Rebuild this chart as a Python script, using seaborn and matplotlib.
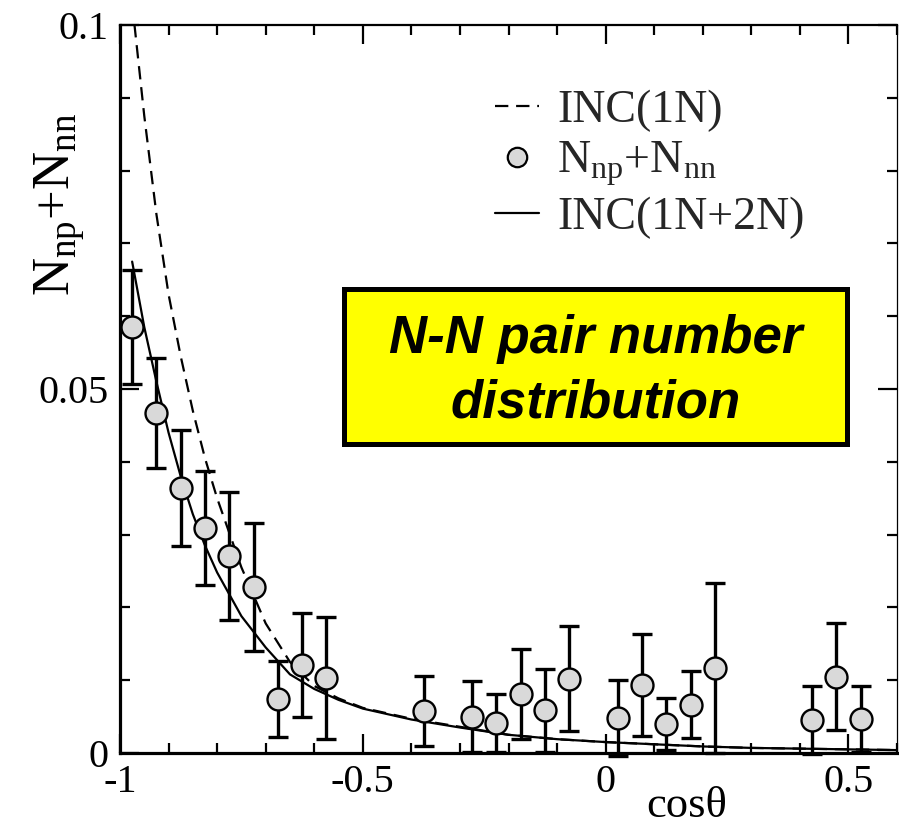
import numpy as np
import pandas as pd
import matplotlib
matplotlib.use("Agg")
import matplotlib.pyplot as plt
import seaborn as sns
from matplotlib.patches import Rectangle
from matplotlib.lines import Line2D
from matplotlib.ticker import MultipleLocator, FuncFormatter

# ---------------- data ----------------
cos_grid = [-0.975, -0.95, -0.925, -0.9, -0.875, -0.85, -0.825, -0.8, -0.75, -0.7, -0.65,
            -0.6, -0.55, -0.5, -0.4, -0.3, -0.2, -0.1, 0.0, 0.1, 0.2, 0.3, 0.4, 0.5, 0.6]
inc_1n = [0.103, 0.0875, 0.074, 0.063, 0.0545, 0.047, 0.0405, 0.035, 0.0255, 0.0178, 0.0125,
          0.0092, 0.0075, 0.0062, 0.0047, 0.0036, 0.0025, 0.0019, 0.0015, 0.0012, 0.0009,
          0.0007, 0.0006, 0.0005, 0.0004]
inc_1n2n = [0.0675, 0.0585, 0.051, 0.044, 0.038, 0.0328, 0.0285, 0.0248, 0.0188, 0.0145, 0.0108,
            0.0088, 0.0073, 0.0061, 0.0046, 0.0035, 0.0025, 0.0019, 0.0015, 0.0012, 0.0009,
            0.0007, 0.0006, 0.0005, 0.0004]

cos_pts = [-0.975, -0.925, -0.875, -0.825, -0.775, -0.725, -0.675, -0.625, -0.575,
           -0.375, -0.275, -0.225, -0.175, -0.125, -0.075, 0.025, 0.075, 0.125, 0.175,
           0.225, 0.425, 0.475, 0.525]
n_pairs = [0.0585, 0.0467, 0.0364, 0.0309, 0.0271, 0.0228, 0.0074, 0.0121, 0.0103,
           0.0058, 0.0050, 0.0041, 0.0081, 0.0059, 0.0102, 0.0048, 0.0093, 0.0040, 0.0066,
           0.0117, 0.0045, 0.0105, 0.0047]
n_err = [0.0078, 0.0076, 0.0079, 0.0078, 0.0088, 0.0088, 0.0052, 0.0071, 0.0084,
         0.0048, 0.0049, 0.0040, 0.0062, 0.0057, 0.0072, 0.0052, 0.0070, 0.0036, 0.0046,
         0.0117, 0.0047, 0.0074, 0.0045]

x_ticks = [-1, -0.5, 0, 0.5]
y_ticks = [0, 0.05, 0.1]
legend_labels = ["INC(1N)", r"N$_{\mathrm{np}}$+N$_{\mathrm{nn}}$", "INC(1N+2N)"]
box_lines = ["N-N pair number", "distribution"]

curves = pd.DataFrame({"cos": cos_grid, "inc1n": inc_1n, "inc1n2n": inc_1n2n})
points = pd.DataFrame({"cos": cos_pts, "n": n_pairs, "err": n_err})

# ---------------- style ----------------
sns.set_theme(style="ticks")
plt.rcParams['font.family'] = ['Liberation Serif', 'DejaVu Serif']
plt.rcParams['mathtext.fontset'] = 'custom'
plt.rcParams['mathtext.rm'] = 'Liberation Serif'
plt.rcParams['mathtext.it'] = 'Liberation Serif:italic'
plt.rcParams['axes.unicode_minus'] = False

W, H = 899, 826
fig = plt.figure(figsize=(W / 100, H / 100), dpi=100)
L, R, T, B = 120, 897, 25, 753
ax = fig.add_axes([L / W, 1 - B / H, (R - L) / W, (B - T) / H])

sns.lineplot(data=curves, x="cos", y="inc1n", ax=ax, color="black", lw=1.6,
             linestyle=(0, (6, 3.5)), zorder=2)
sns.lineplot(data=curves, x="cos", y="inc1n2n", ax=ax, color="black", lw=1.6, zorder=2)

eb = ax.errorbar(points["cos"], points["n"], yerr=points["err"], fmt="none",
                 ecolor="black", elinewidth=2.4, capsize=7.5, capthick=2.4, zorder=3)
for art in list(eb.lines[1]) + list(eb.lines[2]):
    art.set_clip_on(False)

sns.scatterplot(data=points, x="cos", y="n", ax=ax, s=250, color="#d9d9d9",
                edgecolor="black", linewidth=1.7, zorder=4, clip_on=False)

ax.set_xlim(-1, 0.6)
ax.set_ylim(0, 0.1)
ax.xaxis.set_major_locator(MultipleLocator(0.5))
ax.xaxis.set_minor_locator(MultipleLocator(0.1))
ax.yaxis.set_major_locator(MultipleLocator(0.05))
ax.yaxis.set_minor_locator(MultipleLocator(0.01))
fmt = FuncFormatter(lambda v, p: "%g" % round(v, 4))
ax.xaxis.set_major_formatter(fmt)
ax.yaxis.set_major_formatter(fmt)
ax.tick_params(which="both", direction="in", top=True, right=True, color="black")
ax.tick_params(which="major", length=14, width=1.6, labelsize=29, pad=8)
ax.tick_params(which="minor", length=7, width=1.6)
for lab in ax.get_xticklabels() + ax.get_yticklabels():
    lab.set_color("black")

for side in ["left", "bottom"]:
    ax.spines[side].set_linewidth(2.3)
ax.spines["top"].set_linewidth(1.6)
ax.spines["right"].set_linewidth(0.9)
for s in ax.spines.values():
    s.set_color("black")

ax.set_ylabel(legend_labels[1], fontsize=38, color="black")
ax.yaxis.set_label_coords(-0.043, 0.754)
ax.set_xlabel("cosθ", fontsize=32, color="black")
ax.xaxis.label.set_va("baseline")
ax.xaxis.set_label_coords((687 - L) / (R - L), (B - 817) / (B - T))

# legend
handles = [
    Line2D([], [], color="black", lw=1.6, linestyle=(0, (6, 3.5))),
    Line2D([], [], marker="o", ls="none", markersize=14, markerfacecolor="#d9d9d9",
           markeredgecolor="black", markeredgewidth=1.6),
    Line2D([], [], color="black", lw=1.6),
]
leg = ax.legend(handles, legend_labels, loc="upper left", bbox_to_anchor=(0.4826, 0.912),
                frameon=False, fontsize=33, handlelength=0.95, handletextpad=0.41,
                labelspacing=0.18, borderpad=0, borderaxespad=0)

# yellow annotation box
bx0, bx1 = (344 - L) / (R - L), (847 - L) / (R - L)
by0, by1 = (B - 444) / (B - T), (B - 289) / (B - T)
ax.add_patch(Rectangle((bx0, by0), bx1 - bx0, by1 - by0, transform=ax.transAxes,
                       facecolor="#ffff00", edgecolor="black", lw=3.6, zorder=5))
cx = (bx0 + bx1) / 2
ax.text(cx, (B - 353) / (B - T), box_lines[0], transform=ax.transAxes, ha="center",
        va="baseline", fontsize=38, fontweight="bold", fontstyle="italic",
        family=["Liberation Sans", "DejaVu Sans"], color="black", zorder=6)
ax.text(cx, (B - 417) / (B - T), box_lines[1], transform=ax.transAxes, ha="center",
        va="baseline", fontsize=38, fontweight="bold", fontstyle="italic",
        family=["Liberation Sans", "DejaVu Sans"], color="black", zorder=6)

fig.savefig("out.png", dpi=100)
